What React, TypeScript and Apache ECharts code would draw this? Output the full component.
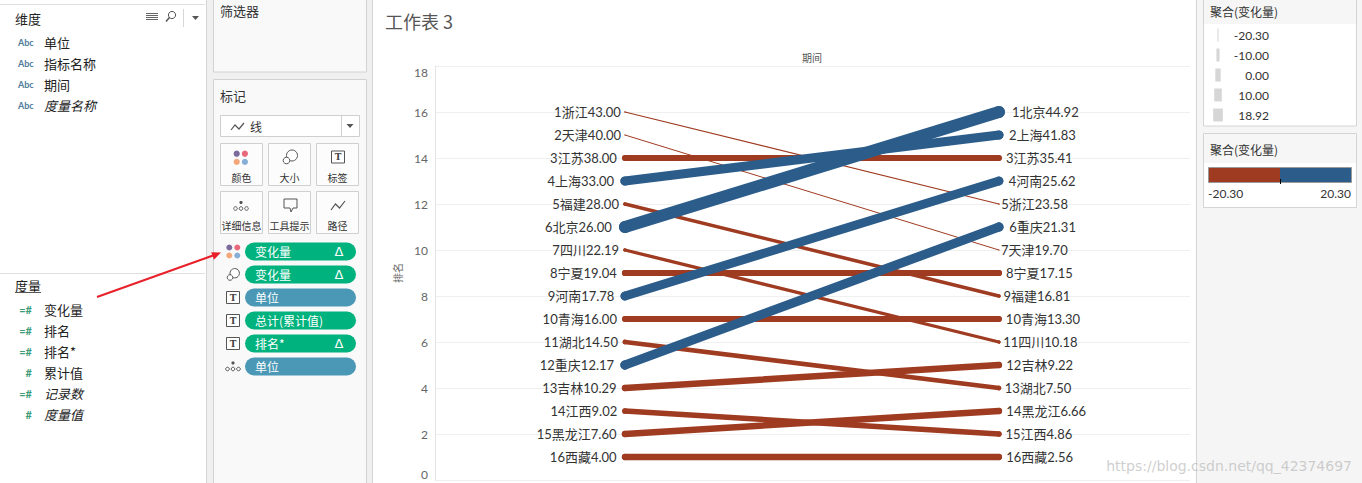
import React, { useEffect, useRef } from "react";
import * as echarts from "echarts";

// ---- data ----
const provinces = ["浙江", "天津", "江苏", "上海", "福建", "北京", "四川", "宁夏", "河南", "青海", "湖北", "重庆", "吉林", "江西", "黑龙江", "西藏"];
const startRank = [1, 2, 3, 4, 5, 6, 7, 8, 9, 10, 11, 12, 13, 14, 15, 16];
const startValue = [43.0, 40.0, 38.0, 33.0, 28.0, 26.0, 22.19, 19.04, 17.78, 16.0, 14.5, 12.17, 10.29, 9.02, 7.6, 4.0];
const endRank = [5, 7, 3, 2, 9, 1, 11, 8, 4, 10, 13, 6, 12, 15, 14, 16];
const endValue = [23.58, 19.7, 35.41, 41.83, 16.81, 44.92, 10.18, 17.15, 25.62, 13.3, 7.5, 21.31, 9.22, 4.86, 6.66, 2.56];
const sizeLegendValues = [-20.3, -10.0, 0.0, 10.0, 18.92];
const colorLegendRange = [-20.3, 20.3];
const yTicks = { min: 0, max: 18, interval: 2 };

const dimensionFields = ["单位", "指标名称", "期间", "度量名称"];
const measureFields = ["变化量", "排名", "排名*", "累计值", "记录数", "度量值"];
const measureIcons = ["=#", "=#", "=#", "#", "=#", "#"];
const pills = ["变化量", "变化量", "单位", "总计(累计值)", "排名*", "单位"];
const pillKinds = ["m", "m", "d", "m", "m", "d"];
const pillDelta = [true, true, false, false, true, false];
const pillIcons = ["color", "size", "label", "label", "label", "detail"];

const RED = "#9f3b21";
const BLUE = "#2c5d8a";
const FONT = "Lato, 'Noto Sans CJK SC', sans-serif";
const CJK = "'Noto Sans CJK SC', Lato, sans-serif";

function widthFor(c: number) {
  const lo = colorLegendRange[0];
  const hi = sizeLegendValues[sizeLegendValues.length - 1];
  return 1 + ((c - lo) / (hi - lo)) * 11;
}

function txt(x: number, y: number, text: string, o: any = {}) {
  return {
    type: "text",
    x,
    y,
    silent: true,
    style: {
      text,
      fill: o.fill || "#333",
      fontSize: o.size || 13,
      fontFamily: o.font || CJK,
      fontStyle: o.italic ? "italic" : "normal",
      fontWeight: o.bold ? "bold" : "normal",
      align: o.align || "left",
      verticalAlign: "middle",
    },
  };
}
function rect(x: number, y: number, w: number, h: number, fill: string, stroke?: string, r = 0) {
  return {
    type: "rect",
    silent: true,
    shape: { x, y, width: w, height: h, r },
    style: { fill, stroke: stroke || "none", lineWidth: 1 },
  };
}
function ln(x1: number, y1: number, x2: number, y2: number, stroke: string, w = 1) {
  return { type: "line", silent: true, shape: { x1, y1, x2, y2 }, style: { stroke, lineWidth: w } };
}
function circ(cx: number, cy: number, r: number, fill: string, stroke?: string) {
  return { type: "circle", silent: true, shape: { cx, cy, r }, style: { fill, stroke: stroke || "none", lineWidth: 1 } };
}
function poly(points: number[][], stroke: string, w = 1.2) {
  return { type: "polyline", silent: true, shape: { points }, style: { stroke, lineWidth: w, fill: "none" } };
}

function colorDots(cx: number, cy: number, d: number, r: number) {
  return [
    circ(cx - d, cy - d, r, "#7b6a9b"),
    circ(cx + d, cy - d, r, "#e8697b"),
    circ(cx - d, cy + d, r, "#f3a77a"),
    circ(cx + d, cy + d, r, "#86aed6"),
  ];
}
function sizeIcon(cx: number, cy: number, s: number) {
  return [circ(cx + 2 * s, cy - 1.5 * s, 5.5 * s, "#fff", "#555"), circ(cx - 3.5 * s, cy + 3.5 * s, 3.3 * s, "#fff", "#555")];
}
function labelIcon(cx: number, cy: number) {
  return [rect(cx - 6.5, cy - 6, 13, 12, "#fff", "#555"), txt(cx, cy, "T", { size: 9, bold: true, fill: "#444", font: "DejaVu Serif", align: "center" })];
}
function detailIcon(cx: number, cy: number) {
  return [
    circ(cx, cy - 3.5, 1.6, "#555"),
    circ(cx - 5.5, cy + 2.5, 1.8, "#fff", "#555"),
    circ(cx, cy + 2.5, 1.8, "#fff", "#555"),
    circ(cx + 5.5, cy + 2.5, 1.8, "#fff", "#555"),
  ];
}

function buildGraphics() {
  const g: any[] = [];
  // left panel
  g.push(rect(0, 0, 206, 483, "#fff"));
  g.push(ln(0, 4.5, 205, 4.5, "#e0e0e0"));
  g.push(txt(15, 18, "维度", { size: 13, fill: "#222" }));
  // header icons
  for (let i = 0; i < 4; i++) g.push(ln(146, 13.5 + i * 2, 158, 13.5 + i * 2, "#666", 1));
  g.push(circ(172, 15, 3.6, "none", "#555"));
  g.push(ln(169.5, 17.5, 166, 21.5, "#555", 1.5));
  g.push(ln(183.5, 9, 183.5, 27, "#d6d6d6"));
  g.push({ type: "polygon", silent: true, shape: { points: [[192, 16], [199, 16], [195.5, 20]] }, style: { fill: "#555" } });
  dimensionFields.forEach((f, i) => {
    const y = 42 + i * 21;
    g.push(txt(18, y, "Abc", { size: 9, fill: "#4d7b9b", font: FONT, bold: true }));
    g.push(txt(44, y, f, { size: 13, italic: i === 3, fill: "#222" }));
  });
  g.push(ln(0, 273.5, 205, 273.5, "#e0e0e0"));
  g.push(txt(15, 285, "度量", { size: 13, fill: "#222" }));
  g.push(ln(15, 292.5, 41, 292.5, "#555"));
  measureFields.forEach((f, i) => {
    const y = 309 + i * 21;
    g.push(txt(32, y, measureIcons[i], { size: 11, fill: "#3e9c78", font: FONT, align: "right", bold: true }));
    g.push(txt(44, y, f, { size: 13, italic: i >= 4, fill: "#222" }));
  });

  // middle shelf column
  g.push(rect(206, 0, 167, 483, "#f0f0f0"));
  g.push(ln(206.5, 0, 206.5, 483, "#d4d4d4"));
  g.push(ln(372.5, 0, 372.5, 483, "#d4d4d4"));
  g.push(rect(213.5, -1, 153, 73, "#f9f9f9", "#d2d2d2"));
  g.push(txt(220, 10, "筛选器", { size: 13, fill: "#333" }));
  g.push(rect(213.5, 79.5, 153, 410, "#f9f9f9", "#d2d2d2"));
  g.push(txt(220, 95, "标记", { size: 13, fill: "#333" }));
  // dropdown
  g.push(rect(220.5, 115.5, 139, 21, "#fff", "#cfcfcf"));
  g.push(ln(341.5, 116, 341.5, 136, "#cfcfcf"));
  g.push({ type: "polygon", silent: true, shape: { points: [[346.5, 124], [353.5, 124], [350, 128]] }, style: { fill: "#555" } });
  g.push(poly([[231, 130], [235, 125], [239, 129], [244, 123]], "#555"));
  g.push(txt(250, 126, "线", { size: 12, fill: "#333" }));
  // buttons
  const cols = [220.5, 268.5, 316.5];
  const rows = [143.5, 191.5];
  const names = [["颜色", "大小", "标签"], ["详细信息", "工具提示", "路径"]];
  rows.forEach((ry, r) =>
    cols.forEach((cx, c) => {
      g.push(rect(cx, ry, 42, 42, "#fcfcfc", "#d0d0d0"));
      g.push(txt(cx + 21, ry + 34, names[r][c], { size: 10, fill: "#333", align: "center" }));
    })
  );
  g.push(...colorDots(240.8, 157.8, 4.1, 3.1));
  g.push(...sizeIcon(290, 157, 1));
  g.push(...labelIcon(338, 157));
  g.push(...detailIcon(241, 206));
  g.push(poly([[284, 199], [297, 199], [297, 208], [293, 208], [291, 212], [290, 208], [284, 208], [284, 199]], "#555", 1));
  g.push(poly([[331, 210], [335.5, 204], [339.5, 208], [345, 201]], "#555", 1.2));
  // pills
  pills.forEach((p, i) => {
    const cy = 251.5 + i * 23;
    const col = pillKinds[i] === "m" ? "#00b27d" : "#4a98b5";
    g.push(rect(245, cy - 9, 111, 18, col, undefined, 9));
    g.push(txt(255, cy, p, { size: 12, fill: "#fff" }));
    if (pillDelta[i]) g.push(txt(339, cy, "Δ", { size: 13, fill: "#fff", font: "DejaVu Sans", align: "center" }));
    const k = pillIcons[i];
    if (k === "color") g.push(...colorDots(233.3, cy, 4, 3));
    else if (k === "size") g.push(...sizeIcon(233, cy, 0.85));
    else if (k === "label") g.push(...labelIcon(233, cy));
    else g.push(...detailIcon(233, cy));
  });

  // right legend panel
  g.push(rect(1196, 0, 166, 483, "#f5f5f5"));
  g.push(ln(1196.5, 0, 1196.5, 483, "#d4d4d4"));
  g.push(rect(1203.5, -1, 153, 127, "#fff", "#d4d4d4"));
  g.push(rect(1204, 0, 152, 24, "#f6f6f6"));
  g.push(txt(1210, 11, "聚合(变化量)", { size: 12, fill: "#333" }));
  sizeLegendValues.forEach((v, i) => {
    const y = 35 + i * 20;
    const w = Math.max(1.5, widthFor(v) * 0.8);
    g.push(rect(1218 - w / 2, y - 6.5, w, 13, i === 0 ? "#e3e3e3" : "#d6d6d6"));
    g.push(txt(1269, y, v.toFixed(2), { size: 12, fill: "#333", font: FONT, align: "right" }));
  });
  g.push(rect(1203.5, 133.5, 153, 74, "#fff", "#d4d4d4"));
  g.push(rect(1204, 134, 152, 29, "#f6f6f6"));
  g.push(txt(1210, 149, "聚合(变化量)", { size: 12, fill: "#333" }));
  g.push(rect(1208.5, 167.5, 71.5, 15, RED));
  g.push(rect(1280, 167.5, 71.5, 15, BLUE));
  g.push(rect(1208.5, 167.5, 143, 15, "none", "#9a9a9a"));
  g.push(ln(1280.5, 179, 1280.5, 184, "#000"));
  g.push(txt(1208, 193, colorLegendRange[0].toFixed(2), { size: 12, fill: "#333", font: FONT }));
  g.push(txt(1351, 193, colorLegendRange[1].toFixed(2), { size: 12, fill: "#333", font: FONT, align: "right" }));

  // chart title & header
  g.push(txt(385, 21, "工作表 3", { size: 18, fill: "#555" }));
  g.push(txt(812, 57, "期间", { size: 10, fill: "#555", align: "center" }));

  // red annotation arrow
  g.push(ln(97, 297, 213, 255.5, "#e8202a", 2));
  g.push({ type: "polygon", silent: true, shape: { points: [[221, 252.5], [211.2, 252.2], [213.9, 259.8]] }, style: { fill: "#e8202a" } });

  // watermark
  g.push({ ...txt(1352, 466, "https://blog.csdn.net/qq_42374697", { size: 14, fill: "rgba(190,190,190,0.75)", font: "'DejaVu Sans', sans-serif", align: "right" }), z: 100 });
  return g;
}

function buildSeries() {
  const idx = provinces.map((_, i) => i);
  idx.sort((a, b) => (endValue[a] - startValue[a]) - (endValue[b] - startValue[b]));
  return idx.map((i) => {
    const change = endValue[i] - startValue[i];
    const w = widthFor(change);
    const color = change >= 0 ? BLUE : RED;
    const lbl = { show: true, color: "#333", fontSize: 13, fontFamily: FONT };
    return {
      type: "line",
      name: provinces[i],
      silent: true,
      symbol: "circle",
      symbolSize: w,
      itemStyle: { color },
      lineStyle: { color, width: w, cap: "round" },
      data: [
        {
          value: [0, 17 - startRank[i]],
          label: { ...lbl, position: "left", distance: 3 + w * 0.35, formatter: `${startRank[i]}${provinces[i]}${startValue[i].toFixed(2)}` },
        },
        {
          value: [1, 17 - endRank[i]],
          label: { ...lbl, position: "right", distance: 1 + w * 0.5, formatter: `${endRank[i]}${provinces[i]}${endValue[i].toFixed(2)}` },
        },
      ],
    };
  });
}

export default function App() {
  const ref = useRef<HTMLDivElement>(null);
  useEffect(() => {
    if (!ref.current) return;
    const chart = echarts.init(ref.current, undefined, { renderer: "svg" });
    chart.setOption({
      animation: false,
      backgroundColor: "#fff",
      grid: { left: 435, right: 172, top: 66, bottom: 3, containLabel: false },
      xAxis: { type: "value", min: -0.508, max: 1.511, show: false },
      yAxis: {
        type: "value",
        min: yTicks.min,
        max: yTicks.max,
        interval: yTicks.interval,
        name: "排名",
        nameLocation: "middle",
        nameGap: 33,
        nameRotate: 90,
        nameTextStyle: { color: "#666", fontSize: 10, fontFamily: CJK },
        axisLine: { show: true, onZero: false, lineStyle: { color: "#e4e4e4" } },
        axisTick: { show: false },
        splitLine: { lineStyle: { color: "#efefef" } },
        axisLabel: {
          color: "#666",
          fontSize: 12,
          fontFamily: FONT,
          margin: 7,
          verticalAlignMaxLabel: "top",
          verticalAlignMinLabel: "bottom",
        },
      },
      graphic: buildGraphics(),
      series: buildSeries(),
    });
    return () => chart.dispose();
  }, []);
  return <div ref={ref} style={{ position: "absolute", left: 0, top: 0, width: 1362, height: 483 }} />;
}
